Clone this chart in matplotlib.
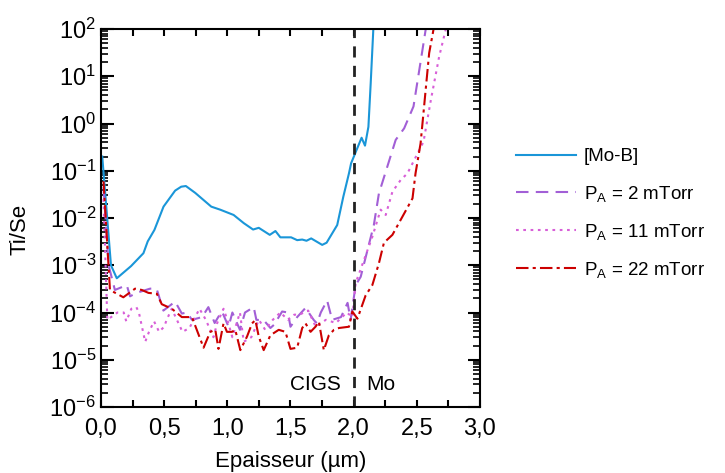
import numpy as np
import matplotlib
matplotlib.use("Agg")
import matplotlib.pyplot as plt
from matplotlib.ticker import FuncFormatter, MultipleLocator, LogLocator

plt.rcParams['font.family'] = ['Liberation Sans', 'DejaVu Sans']
plt.rcParams['mathtext.fontset'] = 'custom'
plt.rcParams['mathtext.rm'] = 'Liberation Sans'
plt.rcParams['mathtext.default'] = 'regular'

# [Mo-B]
x_mob = [0.01, 0.079, 0.125, 0.238, 0.336, 0.37, 0.423, 0.495, 0.587, 0.635, 0.672,
         0.746, 0.873, 0.944, 1.05, 1.13, 1.204, 1.249, 1.336, 1.381, 1.42, 1.505,
         1.553, 1.593, 1.627, 1.664, 1.751, 1.786, 1.87, 1.918, 1.963, 1.98, 2.063,
         2.09, 2.117, 2.135, 2.156, 2.17]
y_mob = [0.2, 1.0e-3, 5.3e-4, 9.6e-4, 1.8e-3, 3.2e-3, 5.6e-3, 1.74e-2, 3.8e-2, 4.6e-2, 4.75e-2,
         3.4e-2, 1.74e-2, 1.5e-2, 1.16e-2, 7.8e-3, 5.7e-3, 6.2e-3, 4.4e-3, 5.3e-3, 3.9e-3, 3.9e-3,
         3.4e-3, 3.5e-3, 3.3e-3, 3.7e-3, 2.7e-3, 3.0e-3, 7.1e-3, 2.8e-2, 8.8e-2, 0.144, 0.5,
         0.34, 0.85, 7.0, 100, 300]

# P_A = 2 mTorr
x_2 = [0.02, 0.06, 0.11, 0.204, 0.23, 0.28, 0.389, 0.44, 0.494, 0.587, 0.64, 0.68, 0.72,
       0.8, 0.85, 0.9, 0.95, 0.958, 1.01, 1.04, 1.1, 1.14, 1.209, 1.23, 1.288, 1.341, 1.37,
       1.434, 1.48, 1.5, 1.553, 1.619, 1.685, 1.71, 1.74, 1.79, 1.83, 1.9, 1.952, 1.976,
       2.016, 2.056, 2.16, 2.2, 2.333, 2.4, 2.474, 2.524, 2.571, 2.6]
y_2 = [4.5e-2, 1.0e-3, 3.0e-4, 3.8e-4, 2.2e-4, 2.6e-4, 3.2e-4, 3.2e-4, 1.1e-4, 1.7e-4, 9.5e-5, 1.0e-4, 7.0e-5,
       8.0e-5, 1.3e-4, 6.0e-5, 1.0e-4, 1.05e-4, 5.0e-5, 1.0e-4, 4.3e-5, 1.0e-4, 1.3e-4, 7.0e-5, 6.9e-5, 4.7e-5, 5.5e-5,
       1.05e-4, 1.0e-4, 5.0e-5, 8.0e-5, 1.25e-4, 6.9e-5, 5.9e-5, 1.0e-4, 1.8e-4, 7.0e-5, 8.0e-5, 1.6e-4, 7.0e-5,
       3.8e-4, 5.7e-4, 7.1e-3, 3.3e-2, 0.45, 0.79, 2.3, 16, 100, 300]

# P_A = 11 mTorr
x_11 = [0.02, 0.05, 0.13, 0.18, 0.2, 0.24, 0.28, 0.3, 0.35, 0.38, 0.42, 0.46, 0.5, 0.52,
        0.56, 0.645, 0.7, 0.78, 0.83, 0.89, 0.92, 0.97, 1.0, 1.04, 1.1, 1.13, 1.19, 1.25,
        1.3, 1.36, 1.42, 1.48, 1.53, 1.57, 1.64, 1.7, 1.78, 1.86, 1.946, 1.99, 2.016,
        2.148, 2.214, 2.254, 2.307, 2.373, 2.426, 2.553, 2.611, 2.677, 2.73, 2.76]
y_11 = [2.5e-2, 7.0e-5, 1.0e-4, 1.0e-4, 6.5e-5, 1.2e-4, 1.3e-4, 1.0e-4, 2.4e-5, 3.9e-5, 6.5e-5, 3.9e-5, 5.0e-5, 7.0e-5,
        1.2e-4, 3.9e-5, 4.7e-5, 1.2e-4, 7.0e-5, 3.0e-5, 6.0e-5, 1.2e-4, 7.0e-5, 3.0e-5, 1.0e-4, 2.4e-5, 3.0e-5, 7.0e-5,
        4.3e-5, 7.0e-5, 1.0e-4, 7.0e-5, 9.0e-5, 9.0e-5, 1.1e-4, 5.0e-5, 7.0e-5, 6.0e-5, 1.0e-4, 8.0e-5, 4.2e-4,
        4.0e-3, 1.5e-2, 1.16e-2, 3.6e-2, 6.4e-2, 8.8e-2, 0.41, 3.1, 26, 100, 300]

# P_A = 22 mTorr
x_22 = [0.02, 0.071, 0.177, 0.27, 0.323, 0.376, 0.442, 0.481, 0.561, 0.64, 0.72, 0.812,
        0.865, 0.905, 0.93, 0.97, 0.997, 1.037, 1.063, 1.103, 1.156, 1.196, 1.222, 1.249,
        1.288, 1.341, 1.407, 1.46, 1.5, 1.553, 1.593, 1.619, 1.659, 1.698, 1.725, 1.764,
        1.804, 1.844, 1.884, 1.963, 1.99, 2.03, 2.095, 2.148, 2.2, 2.24, 2.307, 2.466,
        2.49, 2.53, 2.598, 2.633, 2.66]
y_22 = [6.0e-2, 3.0e-4, 2.1e-4, 3.2e-4, 3.0e-4, 2.6e-4, 2.5e-4, 1.5e-4, 1.2e-4, 8.0e-5, 8.0e-5, 1.8e-5,
        3.9e-5, 4.3e-5, 1.7e-5, 5.9e-5, 3.9e-5, 3.9e-5, 4.3e-5, 1.6e-5, 3.1e-5, 5.9e-5, 6.9e-5, 3.1e-5,
        1.6e-5, 3.3e-5, 4.3e-5, 3.9e-5, 1.7e-5, 1.8e-5, 4.7e-5, 5.9e-5, 3.9e-5, 5.0e-5, 6.4e-5, 1.6e-5,
        3.3e-5, 4.3e-5, 4.7e-5, 5.0e-5, 1.05e-4, 7.4e-5, 2.3e-4, 3.8e-4, 1.1e-3, 3.0e-3, 4.4e-3, 2.6e-2,
        8.8e-2, 0.38, 31, 100, 300]

labels = ['[Mo-B]', r'P$_{A}$ = 2 mTorr', r'P$_{A}$ = 11 mTorr', r'P$_{A}$ = 22 mTorr']

fig = plt.figure(figsize=(7.25, 4.73), dpi=100)
ax = fig.add_axes([0.1393, 0.1395, 0.5227, 0.7992])

ax.plot(x_mob, y_mob, color='#1a96d8', lw=1.5, label=labels[0])
ax.plot(x_2, y_2, color='#a25fd6', lw=1.5, dashes=(6, 3.5), label=labels[1])
ax.plot(x_11, y_11, color='#d85fd8', lw=1.5, dashes=(1.3, 2.2), label=labels[2])
ax.plot(x_22, y_22, color='#cc0000', lw=1.5, dashes=(6, 2, 1.5, 2), label=labels[3])
ax.axvline(2.0, color='#222222', lw=2, dashes=(4, 3))

ax.set_yscale('log')
ax.set_xlim(0, 3)
ax.set_ylim(1e-6, 1e2)
ax.xaxis.set_major_locator(MultipleLocator(0.5))
ax.xaxis.set_minor_locator(MultipleLocator(0.25))
ax.xaxis.set_major_formatter(FuncFormatter(lambda v, p: f"{v:.1f}".replace('.', ',')))
ax.yaxis.set_major_locator(LogLocator(base=10, numticks=20))
ax.yaxis.set_minor_locator(LogLocator(base=10, subs=np.arange(2, 10), numticks=20))
ax.tick_params(which='both', direction='in', top=True, right=True, width=1.5, labelsize=17)
ax.tick_params(axis='y', which='major', length=9)
ax.tick_params(axis='y', which='minor', length=5, width=1.2)
ax.tick_params(axis='x', which='both', length=5)
ax.tick_params(axis='x', pad=8)
for s in ax.spines.values():
    s.set_linewidth(1.5)

ax.text(1.9, 3e-6, 'CIGS', ha='right', va='center', fontsize=15)
ax.text(2.1, 3e-6, 'Mo', ha='left', va='center', fontsize=15)

ax.set_xlabel('Epaisseur (\u00b5m)', fontsize=16, labelpad=8)
ax.set_ylabel('Ti/Se', fontsize=16)
ax.yaxis.set_label_coords(-0.185, 0.47)

fig.legend(loc='upper left', bbox_to_anchor=(0.689, 0.722), frameon=False, fontsize=13.5,
           handlelength=3.2, labelspacing=0.97, handletextpad=0.4)

fig.savefig('out.png', dpi=100)
